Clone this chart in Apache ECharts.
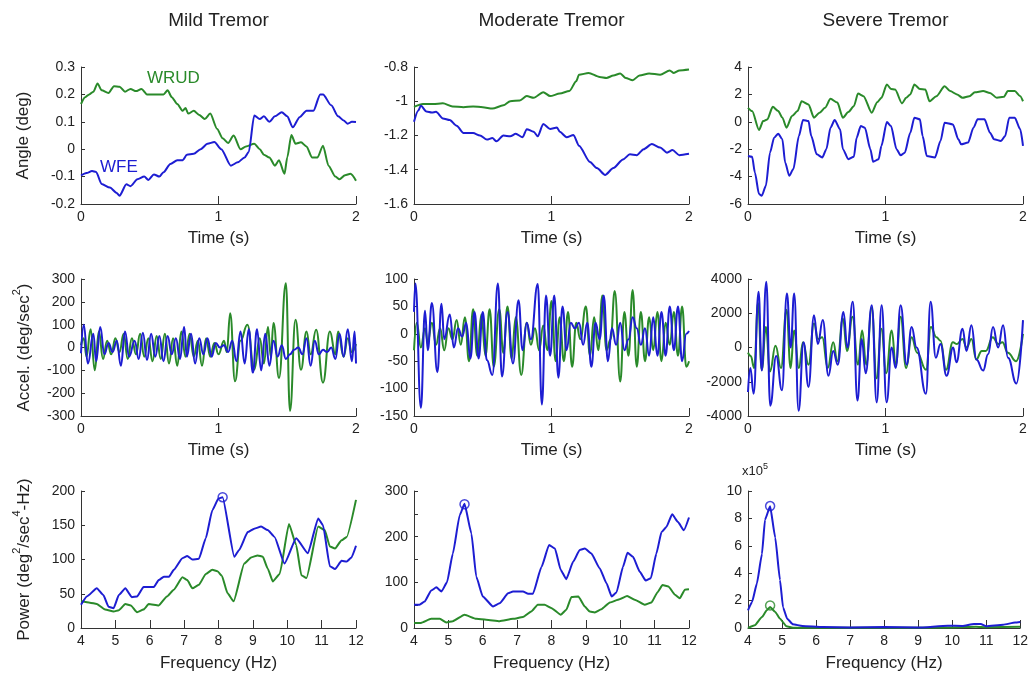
<!DOCTYPE html>
<html><head><meta charset="utf-8">
<script src="https://cdn.jsdelivr.net/npm/echarts@6/dist/echarts.min.js"></script>
<style>html,body{margin:0;padding:0;background:#fff}#c{width:1031px;height:681px}</style>
</head><body><div id="c"></div>
<script>
// ---------- DATA ----------
const colTitles = ['Mild Tremor', 'Moderate Tremor', 'Severe Tremor'];
// Row 1: angle (deg) vs time (s)
const mildAngleWFE = [[0,-0.096],[0.04,-0.087],[0.08,-0.08],[0.11,-0.083],[0.15,-0.127],[0.21,-0.14],[0.26,-0.16],[0.28,-0.17],[0.33,-0.128],[0.36,-0.135],[0.41,-0.11],[0.46,-0.10],[0.49,-0.112],[0.53,-0.092],[0.57,-0.10],[0.60,-0.084],[0.65,-0.054],[0.70,-0.04],[0.74,-0.04],[0.77,-0.02],[0.82,-0.017],[0.87,0.0],[0.92,0.02],[0.97,0.026],[1.02,0.0],[1.09,-0.06],[1.14,-0.048],[1.19,-0.03],[1.22,-0.01],[1.26,0.123],[1.30,0.11],[1.33,0.12],[1.37,0.10],[1.41,0.12],[1.46,0.135],[1.50,0.12],[1.54,0.08],[1.59,0.117],[1.64,0.14],[1.69,0.14],[1.74,0.2],[1.76,0.2],[1.82,0.16],[1.87,0.12],[1.91,0.105],[1.94,0.093],[1.97,0.10],[2.0,0.099]];
const mildAngleWRUD = [[0,0.165],[0.03,0.19],[0.06,0.20],[0.09,0.21],[0.12,0.24],[0.15,0.215],[0.2,0.205],[0.24,0.23],[0.28,0.228],[0.32,0.21],[0.36,0.22],[0.4,0.212],[0.44,0.22],[0.48,0.20],[0.52,0.20],[0.56,0.20],[0.6,0.20],[0.63,0.215],[0.66,0.19],[0.7,0.165],[0.74,0.14],[0.76,0.15],[0.78,0.13],[0.82,0.14],[0.86,0.125],[0.9,0.11],[0.94,0.13],[0.99,0.074],[1.03,0.04],[1.07,0.023],[1.11,0.05],[1.16,0.0],[1.2,0.01],[1.26,0.02],[1.3,0.0],[1.33,-0.02],[1.37,-0.03],[1.41,-0.06],[1.44,-0.04],[1.48,-0.09],[1.5,-0.03],[1.53,0.052],[1.56,0.02],[1.6,0.025],[1.64,0.01],[1.68,-0.03],[1.72,-0.03],[1.76,0.013],[1.8,-0.06],[1.85,-0.10],[1.88,-0.11],[1.92,-0.095],[1.96,-0.09],[2.0,-0.115]];
const modAngleWFE = [[0,-1.12],[0.03,-1.056],[0.05,-1.027],[0.09,-1.06],[0.13,-1.066],[0.16,-1.062],[0.21,-1.10],[0.26,-1.11],[0.31,-1.143],[0.36,-1.186],[0.43,-1.186],[0.48,-1.20],[0.53,-1.224],[0.57,-1.215],[0.60,-1.234],[0.65,-1.20],[0.70,-1.205],[0.74,-1.19],[0.79,-1.21],[0.82,-1.163],[0.87,-1.178],[0.90,-1.205],[0.94,-1.133],[0.99,-1.162],[1.04,-1.153],[1.06,-1.178],[1.11,-1.21],[1.16,-1.197],[1.20,-1.26],[1.28,-1.355],[1.33,-1.39],[1.39,-1.43],[1.45,-1.39],[1.52,-1.34],[1.57,-1.31],[1.62,-1.315],[1.67,-1.28],[1.73,-1.25],[1.79,-1.27],[1.84,-1.30],[1.88,-1.285],[1.93,-1.315],[2.0,-1.307]];
const modAngleWRUD = [[0,-1.033],[0.065,-1.016],[0.14,-1.016],[0.21,-1.012],[0.28,-1.03],[0.36,-1.035],[0.43,-1.03],[0.5,-1.035],[0.57,-1.043],[0.65,-1.024],[0.70,-1.0],[0.77,-0.995],[0.82,-0.97],[0.87,-0.98],[0.94,-0.947],[0.99,-0.97],[1.06,-0.955],[1.13,-0.94],[1.18,-0.883],[1.2,-0.845],[1.27,-0.835],[1.35,-0.858],[1.40,-0.864],[1.45,-0.85],[1.50,-0.838],[1.54,-0.864],[1.59,-0.877],[1.64,-0.85],[1.71,-0.838],[1.79,-0.845],[1.86,-0.82],[1.89,-0.835],[1.93,-0.82],[2.0,-0.815]];
const sevAngleWFE = [[0,-2.49],[0.03,-2.55],[0.05,-3.7],[0.08,-5.27],[0.10,-5.4],[0.13,-4.67],[0.16,-2.25],[0.19,-1.16],[0.22,-0.87],[0.25,-1.28],[0.27,-2.97],[0.30,-3.94],[0.33,-3.45],[0.37,-1.04],[0.40,0.13],[0.44,0.05],[0.46,-1.04],[0.50,-2.37],[0.54,-2.6],[0.57,-2.0],[0.60,-0.43],[0.63,0.13],[0.67,-0.55],[0.69,-2.0],[0.73,-2.73],[0.77,-2.55],[0.79,-1.16],[0.82,-0.31],[0.85,-0.43],[0.89,-2.0],[0.91,-2.92],[0.95,-2.73],[0.97,-1.76],[1.01,-0.02],[1.04,-0.31],[1.08,-2.0],[1.11,-2.44],[1.14,-2.25],[1.18,-0.8],[1.21,0.3],[1.25,0.18],[1.27,-1.04],[1.30,-2.49],[1.36,-2.6],[1.40,-1.4],[1.43,-0.07],[1.49,-0.19],[1.53,-1.28],[1.55,-1.64],[1.60,-1.52],[1.64,-0.43],[1.67,0.18],[1.72,0.18],[1.76,-0.8],[1.79,-1.28],[1.84,-1.4],[1.87,-1.04],[1.90,0.3],[1.94,0.3],[1.98,-0.55],[2.0,-1.76]];
const sevAngleWRUD = [[0,1.02],[0.03,0.78],[0.08,-0.6],[0.11,0.05],[0.14,0.17],[0.18,1.09],[0.22,0.78],[0.25,0.3],[0.28,-0.43],[0.32,0.42],[0.36,0.78],[0.39,1.5],[0.44,1.26],[0.48,0.3],[0.52,0.66],[0.56,1.02],[0.60,1.68],[0.65,1.4],[0.69,0.3],[0.73,0.72],[0.77,1.14],[0.80,2.06],[0.84,1.87],[0.90,0.66],[0.94,1.43],[0.97,1.75],[1.01,2.72],[1.04,2.4],[1.07,2.35],[1.12,1.34],[1.15,1.75],[1.18,2.0],[1.21,2.72],[1.25,2.4],[1.29,2.35],[1.32,1.5],[1.37,1.87],[1.43,2.6],[1.47,2.24],[1.52,2.0],[1.56,1.75],[1.61,1.87],[1.65,2.16],[1.71,2.24],[1.76,2.11],[1.81,1.75],[1.86,1.82],[1.89,2.24],[1.94,2.24],[1.98,1.87],[2.0,1.5]];
// Row 2: acceleration (deg/sec^2) vs time (s)
const mildAccWFE = [[0,-25],[0.02,100],[0.05,-70],[0.09,60],[0.11,-60],[0.14,90],[0.17,-30],[0.2,20],[0.23,-20],[0.26,30],[0.29,-80],[0.32,70],[0.35,-40],[0.39,30],[0.42,-50],[0.45,65],[0.48,-55],[0.51,60],[0.54,-40],[0.57,50],[0.6,-60],[0.63,50],[0.66,-30],[0.69,40],[0.72,-50],[0.75,90],[0.77,-40],[0.8,60],[0.83,-70],[0.86,40],[0.89,-30],[0.92,40],[0.95,-40],[0.98,20],[1.01,0],[1.04,10],[1.07,-20],[1.1,30],[1.13,-60],[1.16,70],[1.19,-70],[1.22,80],[1.25,-110],[1.28,80],[1.31,-100],[1.34,60],[1.37,-80],[1.4,30],[1.43,-40],[1.46,10],[1.49,-50],[1.52,-30],[1.55,-10],[1.58,0],[1.61,-30],[1.64,40],[1.67,-80],[1.7,30],[1.73,-30],[1.76,-10],[1.79,-20],[1.82,0],[1.85,-50],[1.88,60],[1.91,-40],[1.94,80],[1.97,-60],[1.99,70],[2.0,-70]];
const mildAccWRUD = [[0,10],[0.02,40],[0.04,-40],[0.07,80],[0.1,-100],[0.13,70],[0.16,-50],[0.19,30],[0.22,-30],[0.25,40],[0.28,-20],[0.31,60],[0.34,-50],[0.37,40],[0.4,-30],[0.43,60],[0.46,-40],[0.49,40],[0.52,-60],[0.55,50],[0.58,-50],[0.61,60],[0.64,-70],[0.67,40],[0.7,-80],[0.73,70],[0.76,-40],[0.79,60],[0.82,-40],[0.85,30],[0.88,-80],[0.91,40],[0.94,-40],[0.97,20],[1.0,-30],[1.04,30],[1.06,-20],[1.085,150],[1.12,-148],[1.16,30],[1.21,100],[1.26,-97],[1.3,40],[1.33,-70],[1.36,90],[1.38,-40],[1.40,107],[1.44,-133],[1.49,281],[1.52,-278],[1.56,121],[1.60,-97],[1.64,70],[1.67,-30],[1.71,78],[1.76,-154],[1.81,70],[1.85,-30],[1.87,70],[1.91,-40],[1.94,40],[1.97,-20],[2.0,15]];
const modAccWFE = [[0,40],[0.01,92],[0.05,-135],[0.08,42],[0.1,-30],[0.13,56],[0.17,-70],[0.2,55],[0.22,-10],[0.26,35],[0.29,-25],[0.32,10],[0.35,-5],[0.38,20],[0.41,-45],[0.44,40],[0.47,-45],[0.5,40],[0.53,-48],[0.57,-75],[0.61,92],[0.64,-78],[0.68,40],[0.72,-54],[0.76,61],[0.79,-30],[0.82,20],[0.85,-10],[0.90,91],[0.93,-129],[0.96,70],[0.99,-40],[1.02,70],[1.05,-80],[1.08,50],[1.11,-30],[1.14,20],[1.17,10],[1.2,20],[1.23,-20],[1.26,20],[1.29,-60],[1.32,20],[1.35,-10],[1.38,70],[1.41,-50],[1.44,10],[1.47,-20],[1.5,20],[1.53,-30],[1.56,-10],[1.59,30],[1.62,10],[1.65,-20],[1.68,10],[1.71,-40],[1.74,30],[1.77,-40],[1.8,40],[1.83,-40],[1.86,50],[1.89,-30],[1.92,50],[1.95,-50],[1.98,0],[2.0,5]];
const modAccWRUD = [[0,-30],[0.02,20],[0.05,-25],[0.08,10],[0.1,-15],[0.13,20],[0.16,-20],[0.19,10],[0.22,-30],[0.25,10],[0.28,-10],[0.31,25],[0.34,-20],[0.37,30],[0.4,-50],[0.43,45],[0.46,-40],[0.49,35],[0.52,-40],[0.55,45],[0.58,-60],[0.62,45],[0.65,-35],[0.68,50],[0.71,-45],[0.74,30],[0.78,-75],[0.82,20],[0.85,-20],[0.88,10],[0.91,-30],[0.94,15],[0.97,-30],[1.0,60],[1.03,-50],[1.06,30],[1.09,-50],[1.12,40],[1.15,-60],[1.18,20],[1.21,-10],[1.25,50],[1.28,-40],[1.31,30],[1.34,-30],[1.37,70],[1.4,-30],[1.43,-10],[1.46,78],[1.5,-87],[1.53,40],[1.56,-40],[1.59,80],[1.62,-60],[1.65,40],[1.68,-50],[1.71,30],[1.74,-30],[1.77,40],[1.8,-50],[1.83,20],[1.86,-20],[1.89,40],[1.92,-40],[1.95,50],[1.98,-60],[2.0,-50]];
const sevAccWFE = [[0,-2600],[0.017,-1200],[0.041,-2700],[0.077,3250],[0.10,-1350],[0.133,3840],[0.162,-3400],[0.205,-500],[0.247,-2500],[0.283,3150],[0.31,0],[0.336,3150],[0.368,-3700],[0.404,300],[0.44,-2300],[0.48,1880],[0.508,200],[0.544,1600],[0.585,-1650],[0.62,-200],[0.653,-1000],[0.694,2080],[0.723,0],[0.762,2670],[0.796,-3100],[0.827,500],[0.856,-1500],[0.90,2470],[0.936,-3200],[0.972,2470],[1.008,-3200],[1.045,0],[1.074,-1200],[1.11,2470],[1.154,-1000],[1.19,1200],[1.226,0],[1.294,-2700],[1.328,2670],[1.366,-600],[1.40,200],[1.444,-1650],[1.492,0],[1.516,-860],[1.56,1100],[1.589,-200],[1.625,1300],[1.661,-700],[1.71,-1350],[1.746,-400],[1.782,1200],[1.819,0],[1.855,1300],[1.891,-600],[1.952,-2100],[2.0,1600]];
const sevAccWRUD = [[0,-300],[0.02,-500],[0.045,-1200],[0.073,2600],[0.1,-1300],[0.13,1200],[0.16,-1400],[0.2,100],[0.24,-1200],[0.28,2200],[0.31,-1200],[0.335,1000],[0.37,-1200],[0.40,300],[0.44,-1000],[0.48,1400],[0.51,500],[0.54,600],[0.58,-1200],[0.62,300],[0.65,-800],[0.69,1700],[0.72,-200],[0.76,1800],[0.8,-1000],[0.83,1000],[0.86,-1000],[0.90,2300],[0.935,-1800],[0.97,1100],[1.005,-1500],[1.045,1000],[1.075,-1000],[1.11,1800],[1.15,-1200],[1.19,600],[1.23,-300],[1.295,-1300],[1.33,1200],[1.37,600],[1.40,400],[1.44,-1300],[1.49,300],[1.52,200],[1.56,500],[1.59,0],[1.625,500],[1.66,-700],[1.70,-200],[1.73,-200],[1.78,600],[1.82,200],[1.85,300],[1.89,-300],[1.95,-800],[2.0,800]];
// Row 3: power (deg^2/sec^4-Hz) vs frequency (Hz)
const mildPowWFE = [[4,34],[4.17,46],[4.46,58],[4.65,48],[4.8,31],[4.95,29],[5.1,48],[5.29,58],[5.48,45],[5.63,46],[5.82,60],[6.12,60],[6.26,70],[6.41,75],[6.56,75],[6.7,85],[6.95,102],[7.09,105],[7.24,100],[7.43,101],[7.63,131],[7.82,172],[8.0,189],[8.12,191],[8.46,104],[8.6,114],[8.85,140],[9.04,145],[9.24,148],[9.43,143],[9.63,133],[9.92,94],[10.26,131],[10.6,109],[10.9,160],[11.04,150],[11.24,90],[11.39,86],[11.58,98],[11.73,97],[11.87,103],[12,120]];
const mildPowWRUD = [[4,39],[4.26,37],[4.46,35],[4.7,27],[4.95,24],[5.1,26],[5.29,35],[5.45,33],[5.63,23],[5.82,27],[5.97,35],[6.26,33],[6.5,46],[6.7,56],[6.95,74],[7.09,70],[7.24,58],[7.43,63],[7.63,79],[7.82,85],[7.97,83],[8.1,76],[8.26,51],[8.44,39],[8.75,94],[8.95,103],[9.14,106],[9.29,104],[9.43,87],[9.58,68],[9.78,79],[10.05,152],[10.26,121],[10.41,77],[10.56,73],[10.9,148],[11.09,143],[11.24,119],[11.39,116],[11.58,128],[11.73,133],[12,187]];
const modPowWFE = [[4,51],[4.16,51],[4.31,58],[4.5,82],[4.65,89],[4.8,80],[4.96,100],[5.13,163],[5.33,247],[5.47,272],[5.67,207],[5.81,113],[6.0,69],[6.3,47],[6.49,54],[6.74,76],[6.88,80],[7.17,80],[7.32,75],[7.46,75],[7.71,134],[7.93,182],[8.1,174],[8.27,127],[8.43,107],[8.63,145],[8.82,171],[8.97,174],[9.16,163],[9.4,131],[9.6,98],[9.75,69],[9.89,78],[10.08,134],[10.21,165],[10.37,156],[10.57,123],[10.74,104],[10.89,109],[11.05,163],[11.2,210],[11.34,221],[11.51,249],[11.68,232],[11.85,214],[12,242]];
const modPowWRUD = [[4,11],[4.2,11],[4.5,20],[4.75,20],[4.94,12],[5.13,15],[5.47,29],[5.81,20],[6.1,18],[6.49,15],[6.88,20],[7.17,24],[7.41,36],[7.6,51],[7.8,51],[7.99,44],[8.27,29],[8.43,40],[8.58,68],[8.78,69],[8.97,47],[9.11,36],[9.26,34],[9.45,41],[9.7,56],[9.98,63],[10.2,70],[10.42,62],[10.71,51],[10.91,56],[11.08,78],[11.23,94],[11.4,91],[11.59,73],[11.73,65],[11.88,84],[12,85]];
// severe power in units of 10^5
const sevPowWFE = [[4,1.29],[4.12,1.9],[4.26,3.24],[4.41,5.4],[4.5,7.9],[4.65,8.88],[4.8,6.6],[4.94,3.5],[5.03,1.5],[5.15,0.68],[5.32,0.27],[5.6,0.15],[6.2,0.07],[7,0.04],[8,0.07],[9,0.03],[9.87,0.17],[10.3,0.15],[10.64,0.3],[10.84,0.3],[11.0,0.12],[11.5,0.24],[11.85,0.4],[12,0.44]];
const sevPowWRUD = [[4,0],[4.2,0.2],[4.41,0.8],[4.55,1.29],[4.65,1.53],[4.8,1.17],[4.94,0.68],[5.13,0.12],[5.32,0.02],[6,0.01],[8,0.02],[10,0.03],[10.7,0.1],[11,0.05],[12,0.1]];
// Peak markers
const mildPeakWFE = [[8.12,191]];
const modPeakWFE = [[5.47,271]];
const sevPeakWFE = [[4.65,8.9]];
const sevPeakWRUD = [[4.65,1.65]];
// Axis ranges / ticks
const timeTicks = {min:0, max:2, interval:1};
const freqTicks = {min:4, max:12, interval:1};
const yRanges = [
  {min:-0.2, max:0.3, interval:0.1}, {min:-1.6, max:-0.8, interval:0.2}, {min:-6, max:4, interval:2},
  {min:-300, max:300, interval:100}, {min:-150, max:100, interval:50}, {min:-4000, max:4000, interval:2000},
  {min:0, max:200, interval:50}, {min:0, max:300, interval:50}, {min:0, max:10, interval:2}
];

// ---------- LAYOUT / STYLE ----------
const FONT = '"Liberation Sans", Arial, Helvetica, sans-serif';
const BLUE = '#1d1dd2', GREEN = '#2a8a2a', AX = '#333', TXT = '#222';
const colLeft = [81, 414, 748], colW = 275;
const rowTop = [67, 279, 491], rowH = 137;

const grids = [], xAxes = [], yAxes = [], series = [];
const supRich = {
  n: {fontSize:17, fontFamily:FONT, color:TXT, lineHeight:22, verticalAlign:'bottom'},
  s: {fontSize:11, fontFamily:FONT, color:TXT, lineHeight:22, verticalAlign:'top'}
};
const yNames = ['{n|Angle (deg)}', '{n|Accel. (deg/sec}{s|2}{n|)}', '{n|Power (deg}{s|2}{n|/sec}{s|4}{n|-Hz)}'];
const yNameGaps = [49, 48, 48];
const panelSeries = [
  [mildAngleWFE, mildAngleWRUD], [modAngleWFE, modAngleWRUD], [sevAngleWFE, sevAngleWRUD],
  [mildAccWFE, mildAccWRUD], [modAccWFE, modAccWRUD], [sevAccWFE, sevAccWRUD],
  [mildPowWFE, mildPowWRUD], [modPowWFE, modPowWRUD], [sevPowWFE, sevPowWRUD]
];
const panelPeaks = [[], [], [], [], [], [], [[mildPeakWFE, BLUE]], [[modPeakWFE, BLUE]], [[sevPeakWFE, BLUE], [sevPeakWRUD, GREEN]]];
const plainNum = v => String(+(+v).toFixed(6));

for (let r = 0; r < 3; r++) {
  for (let c = 0; c < 3; c++) {
    const i = r * 3 + c;
    grids.push({left: colLeft[c], top: rowTop[r], width: colW, height: rowH, containLabel: false});
    const xt = r < 2 ? timeTicks : freqTicks;
    xAxes.push({
      gridIndex: i, type: 'value', min: xt.min, max: xt.max, interval: xt.interval,
      name: r < 2 ? 'Time (s)' : 'Frequency (Hz)', nameLocation: 'middle', nameGap: r < 2 ? 26 : 27,
      nameTextStyle: {fontSize: 17, color: TXT, fontFamily: FONT},
      axisLine: {show: true, onZero: false, lineStyle: {color: AX, width: 1}},
      axisTick: {show: true, inside: true, length: 8, lineStyle: {color: AX}},
      axisLabel: {fontSize: 14, color: TXT, fontFamily: FONT, margin: 6, formatter: plainNum},
      splitLine: {show: false}
    });
    const yr = yRanges[i];
    yAxes.push({
      gridIndex: i, type: 'value', min: yr.min, max: yr.max, interval: yr.interval,
      name: c === 0 ? yNames[r] : '', nameLocation: 'middle', nameGap: yNameGaps[r],
      nameRotate: 90,
      nameTextStyle: {fontSize: 17, color: TXT, fontFamily: FONT, rich: supRich},
      axisLine: {show: true, onZero: false, lineStyle: {color: AX, width: 1}},
      axisTick: {show: true, inside: true, length: 4, lineStyle: {color: AX}},
      axisLabel: {fontSize: 14, color: TXT, fontFamily: FONT, margin: 6,
        formatter: i === 7 ? (v => (Math.round(v) % 100 === 0 ? String(Math.round(v)) : '')) : plainNum},
      splitLine: {show: false}
    });
    const [wfe, wrud] = panelSeries[i];
    const sm = r === 0 ? 0.25 : (r === 1 ? 0.45 : 0.15);
    series.push({type: 'line', xAxisIndex: i, yAxisIndex: i, data: wrud, showSymbol: false, smooth: sm, smoothMonotone: 'x',
      lineStyle: {color: GREEN, width: 2}, itemStyle: {color: GREEN}, z: 2});
    series.push({type: 'line', xAxisIndex: i, yAxisIndex: i, data: wfe, showSymbol: false, smooth: sm, smoothMonotone: 'x',
      lineStyle: {color: BLUE, width: 2}, itemStyle: {color: BLUE}, z: 3});
    panelPeaks[i].forEach(([pk, col]) => {
      series.push({type: 'scatter', xAxisIndex: i, yAxisIndex: i, data: pk, symbol: 'circle', symbolSize: 9,
        itemStyle: {color: 'rgba(0,0,0,0)', borderColor: col, borderWidth: 1.5}, z: 5});
    });
  }
}

const graphics = [];
colTitles.forEach((t, c) => graphics.push({type: 'text', x: colLeft[c] + colW / 2, y: 21,
  style: {text: t, fontSize: 19, fontFamily: FONT, fill: TXT, align: 'center', verticalAlign: 'middle'}}));
graphics.push({type: 'text', x: 147, y: 78, style: {text: 'WRUD', fontSize: 17, fontFamily: FONT, fill: GREEN, align: 'left', verticalAlign: 'middle'}});
graphics.push({type: 'text', x: 100, y: 167, style: {text: 'WFE', fontSize: 17, fontFamily: FONT, fill: BLUE, align: 'left', verticalAlign: 'middle'}});
graphics.push({type: 'text', x: 742, y: 470, style: {text: '{a|x10}{b|5}', fontFamily: FONT, fill: TXT, align: 'left', verticalAlign: 'middle',
  rich: {a: {fontSize: 13, fontFamily: FONT, color: TXT, lineHeight: 16, verticalAlign: 'bottom'}, b: {fontSize: 9, fontFamily: FONT, color: TXT, lineHeight: 16, verticalAlign: 'top'}}}});

const chart = echarts.init(document.getElementById('c'), null, {renderer: 'canvas'});
chart.setOption({
  animation: false, backgroundColor: '#fff',
  grid: grids, xAxis: xAxes, yAxis: yAxes, series: series, graphic: graphics
});
</script></body></html>
